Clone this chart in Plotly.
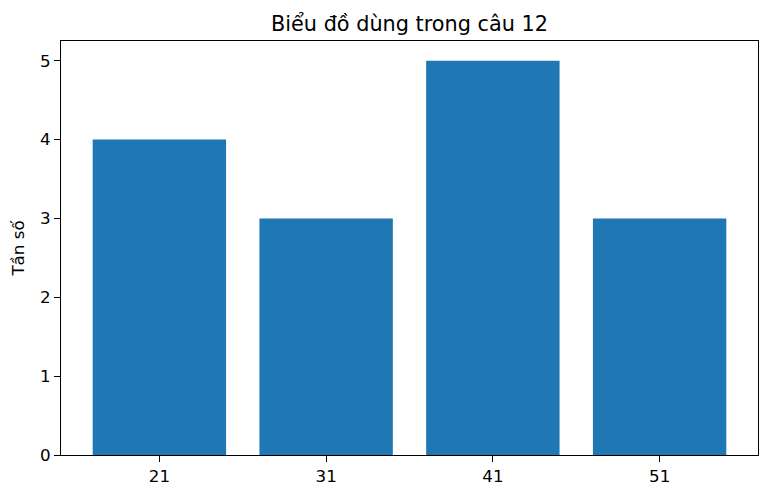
import plotly.graph_objects as go

# dữ liệu
gia_tri = [21, 31, 41, 51]
tan_so = [4, 3, 5, 3]
nhan_y = [0, 1, 2, 3, 4, 5]

fig = go.Figure()
fig.add_trace(go.Bar(x=gia_tri, y=tan_so, width=8, marker=dict(color="#1f77b4", line=dict(width=0))))

font = "DejaVu Sans"
# page body has an 8px margin on each side, so keep the figure inside the window
fig.update_layout(
    width=754, height=482,
    margin=dict(l=53, r=4, t=33, b=35),
    paper_bgcolor="white", plot_bgcolor="white",
    font=dict(family=font, size=16.7, color="black"),
    showlegend=False,
    title=dict(text="Biểu đồ dùng trong câu 12", x=(401.5 / 754), xanchor="center",
               y=1 - 16 / 482, yanchor="middle", font=dict(size=20.8, family=font, color="black")),
)
fig.update_xaxes(
    range=[15.1, 56.9], tickvals=gia_tri, ticktext=[str(v) for v in gia_tri],
    showgrid=False, zeroline=False, ticks="outside", ticklen=6, tickwidth=1, tickcolor="black",
    showline=True, linecolor="black", linewidth=1, mirror=True,
)
fig.update_yaxes(
    range=[0, 5.25], tickvals=nhan_y, showgrid=False, zeroline=False,
    ticks="outside", ticklen=6, tickwidth=1, tickcolor="black",
    showline=True, linecolor="black", linewidth=1, mirror=True,
    title=dict(text="Tần số", font=dict(size=16.7, family=font), standoff=12),
)

fig.write_html("out.html")
